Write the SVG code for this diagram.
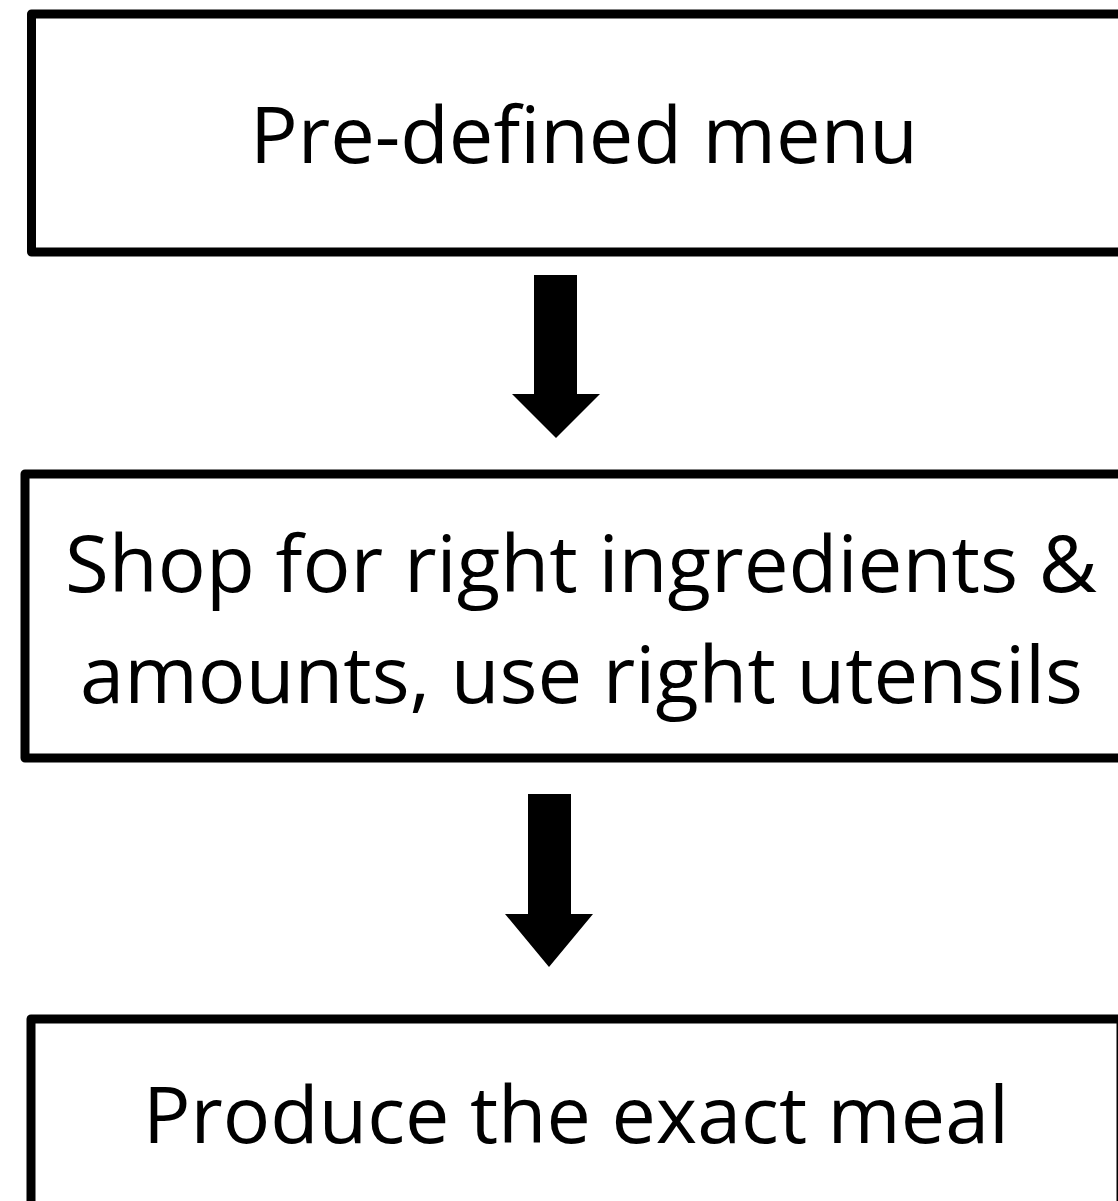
<svg xmlns="http://www.w3.org/2000/svg" width="1118" height="1201" viewBox="0 0 1118 1201">
<style>
.box{fill:#fff;stroke:#000;stroke-width:9;stroke-linejoin:round}
.lbl{font-family:"Open Sans","Noto Sans","Liberation Sans",sans-serif;font-size:78px;fill:#000}
.arrow{fill:#000}
</style>
<rect width="1118" height="1201" fill="#fff"/>
<g id="node-menu">
<rect class="box" x="31.5" y="14" width="1110" height="238"/>
<text class="lbl" x="250" y="163" textLength="668" lengthAdjust="spacingAndGlyphs">Pre-defined menu</text>
</g>
<g id="node-shop">
<rect class="box" x="25" y="474" width="1110" height="284"/>
<text class="lbl" x="65" y="592" textLength="1032" lengthAdjust="spacingAndGlyphs">Shop for right ingredients &amp;</text>
<text class="lbl" x="80" y="703" textLength="1003" lengthAdjust="spacingAndGlyphs">amounts, use right utensils</text>
</g>
<g id="node-meal">
<rect class="box" x="31" y="1019" width="1090" height="220"/>
<text class="lbl" x="143" y="1143" textLength="866" lengthAdjust="spacingAndGlyphs">Produce the exact meal</text>
</g>
<g id="connectors">
<polygon class="arrow" points="534,275 577,275 577,394 600,394 556,438 512,394 534,394"/>
<polygon class="arrow" points="528,794 571,794 571,914 593,914 549,967 505,914 528,914"/>
</g>
</svg>
